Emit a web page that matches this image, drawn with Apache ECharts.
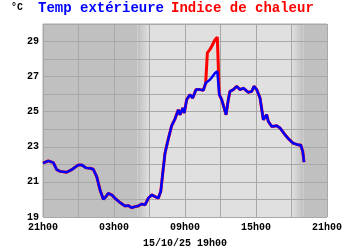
<!DOCTYPE html>
<html><head><meta charset="utf-8">
<script src="https://cdn.jsdelivr.net/npm/echarts@6/dist/echarts.min.js"></script>
<style>html,body{margin:0;padding:0;background:#fff}#c{width:350px;height:250px}</style>
</head><body><div id="c"></div>
<script>
// hours elapsed since 21h00 (15/10/25 - 1 day)
const hours = [0.0,0.45,0.87,1.16,1.44,2.0,2.43,2.98,3.27,3.63,3.97,4.25,4.54,4.82,5.1,5.32,5.52,5.81,6.08,6.51,6.93,7.21,7.5,7.77,8.05,8.34,8.62,8.9,9.19,9.47,9.74,9.95,10.12,10.31,10.59,10.87,11.15,11.43,11.58,11.81,11.94,12.14,12.42,12.65,12.93,13.27,13.55,13.75,13.89,14.11,14.26,14.54,14.62,14.73,14.9,15.1,15.47,15.66,15.8,16.08,16.37,16.65,16.93,17.35,17.64,17.83,18.06,18.34,18.62,18.9,19.04,19.33,19.75,20.03,20.45,20.73,21.15,21.58,21.78,21.95,22.06];
const tempExt = [22.07,22.2,22.1,21.7,21.6,21.55,21.7,21.97,21.97,21.8,21.78,21.72,21.3,20.54,20.01,20.16,20.35,20.26,20.07,19.82,19.63,19.65,19.53,19.59,19.63,19.74,19.69,20.07,20.26,20.16,20.07,20.45,21.5,22.64,23.45,24.2,24.58,25.11,24.83,25.21,24.93,25.69,25.97,25.78,26.26,26.26,26.22,26.64,26.7,26.83,26.95,27.21,27.25,27.3,25.97,25.69,24.83,25.69,26.16,26.26,26.45,26.26,26.35,26.1,26.16,26.45,26.26,25.78,24.54,24.83,24.45,24.16,24.2,24.07,23.69,23.47,23.2,23.11,23.11,22.73,22.13];
const heatIdx = [22.07,22.2,22.1,21.7,21.6,21.55,21.7,21.97,21.97,21.8,21.78,21.72,21.3,20.54,20.01,20.16,20.35,20.26,20.07,19.82,19.63,19.65,19.53,19.59,19.63,19.74,19.69,20.07,20.26,20.16,20.07,20.45,21.5,22.64,23.45,24.2,24.58,25.11,24.83,25.21,24.93,25.69,25.97,25.78,26.26,26.26,26.22,26.64,28.35,28.55,28.73,29.1,29.2,29.25,25.97,25.69,24.83,25.69,26.16,26.26,26.45,26.26,26.35,26.1,26.16,26.45,26.26,25.78,24.54,24.83,24.45,24.16,24.2,24.07,23.69,23.47,23.2,23.11,23.11,22.73,22.13];
const xTickLabels = ['21h00','03h00','09h00','15h00','21h00'];
const seriesNames = ['Temp extérieure','Indice de chaleur'];
const unitLabel = '°C';
const dateLabel = '15/10/25 19h00';
// night / day shading (hours since 21h00)
const nightEnd = [8.0, 9.0];
const nightStart = [21.0, 22.0];

const DARK = '#c0c0c0', LIGHT = '#e0e0e0';
const font = '"Liberation Mono","DejaVu Sans Mono",monospace';
const grad = (a,b) => ({type:'linear',x:0,y:0,x2:1,y2:0,colorStops:[{offset:0,color:a},{offset:1,color:b}]});
const chart = echarts.init(document.getElementById('c'), null, {renderer:'canvas'});
chart.setOption({
  animation:false,
  title:[
    {text:unitLabel,left:11,top:2,padding:0,textStyle:{fontFamily:font,fontWeight:'bold',fontSize:10,color:'#000'}},
    {text:seriesNames[0],left:38,top:1,padding:0,textStyle:{fontFamily:font,fontWeight:'bold',fontSize:14,color:'#0000ff'}},
    {text:seriesNames[1],left:171,top:1,padding:0,textStyle:{fontFamily:font,fontWeight:'bold',fontSize:14,color:'#ff0000'}},
    {text:dateLabel,left:185,top:238,padding:0,textAlign:'center',textStyle:{fontFamily:font,fontWeight:'bold',fontSize:10,color:'#000'}}
  ],
  grid:{left:43,right:23,top:24,bottom:33,show:true,borderColor:'#a8a8a8',borderWidth:1,backgroundColor:'transparent'},
  xAxis:{type:'value',min:0,max:24,interval:3,z:3,
    axisLine:{show:false},axisTick:{show:false},
    splitLine:{show:true,lineStyle:{color:'#a8a8a8',width:1}},
    axisLabel:{margin:5,fontFamily:font,fontWeight:'bold',fontSize:10,color:'#000',
      formatter:v=> v%6===0 ? xTickLabels[v/6] : ''}},
  yAxis:{type:'value',min:19,max:30,interval:1,z:3,
    axisLine:{show:false},axisTick:{show:false},
    splitLine:{show:true,lineStyle:{color:'#a8a8a8',width:1}},
    axisLabel:{margin:4,fontFamily:font,fontWeight:'bold',fontSize:10,color:'#000',
      formatter:v=> (v%2===1) ? String(v) : ''}},
  series:[
    {type:'line',data:[],z:1,silent:true,
      markArea:{silent:true,data:[
        [{xAxis:0,itemStyle:{color:DARK}},{xAxis:nightEnd[0]}],
        [{xAxis:nightEnd[0],itemStyle:{color:grad(DARK,LIGHT)}},{xAxis:nightEnd[1]}],
        [{xAxis:nightEnd[1],itemStyle:{color:LIGHT}},{xAxis:nightStart[0]}],
        [{xAxis:nightStart[0],itemStyle:{color:grad(LIGHT,DARK)}},{xAxis:nightStart[1]}],
        [{xAxis:nightStart[1],itemStyle:{color:DARK}},{xAxis:24}]
      ]}},
    {name:seriesNames[1],type:'line',z:5,symbol:'none',data:hours.map((h,i)=>[h,heatIdx[i]]),
      lineStyle:{color:'#ff0000',width:3}},
    {name:seriesNames[0],type:'line',z:6,symbol:'none',data:hours.map((h,i)=>[h,tempExt[i]]),
      lineStyle:{color:'#0000ff',width:2.5}}
  ]
});
</script></body></html>
